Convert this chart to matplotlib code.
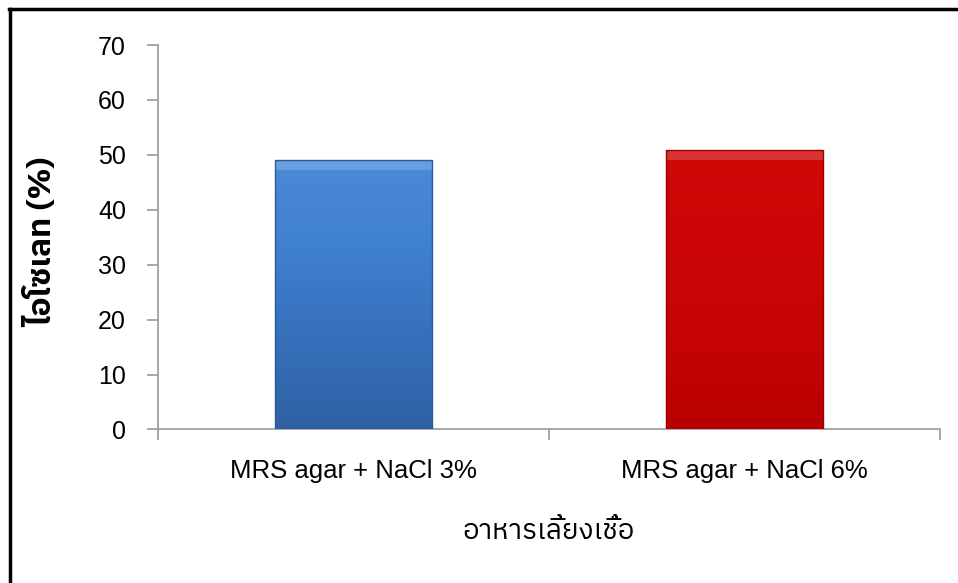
import numpy as np
import matplotlib
matplotlib.use("Agg")
import matplotlib.pyplot as plt
from matplotlib import font_manager
from matplotlib.ft2font import FT2Font
from matplotlib.colors import LinearSegmentedColormap
from matplotlib.lines import Line2D

categories = ["MRS agar + NaCl 3%", "MRS agar + NaCl 6%"]
values = [49.0, 50.8]
yticks = [0, 10, 20, 30, 40, 50, 60, 70]
ylabel = "ไอโซเลท (%)"
xlabel = "อาหารเลี้ยงเชื้อ"

# find a font that has Thai glyphs
thai_font = None
cands = []
for f in font_manager.fontManager.ttflist:
    try:
        cm = FT2Font(f.fname).get_charmap()
        if 0x0E44 in cm and 0x0E17 in cm:
            cands.append(f)
    except Exception:
        pass
if cands:
    pref = [c for c in cands if "thai" in c.name.lower()]
    thai_font = (pref or cands)[0].name
thai_family = [thai_font, "DejaVu Sans"] if thai_font else ["DejaVu Sans"]

plt.rcParams["font.family"] = ["Liberation Sans", "DejaVu Sans"]

fig = plt.figure(figsize=(9.58, 5.83), dpi=100)
ax = fig.add_axes([0.1649, 0.2633, 0.9812 - 0.1649, 0.9228 - 0.2633])

x = np.arange(len(categories))
bars = ax.bar(x, values, width=0.40, color="none", edgecolor="none", zorder=3)

grads = [
    LinearSegmentedColormap.from_list("b", ["#2f61a4", "#3670bb", "#3f80cf", "#4a8ad9"]),
    LinearSegmentedColormap.from_list("r", ["#b80000", "#c60404", "#cc0606", "#cf0808"]),
]
edges = ["#2a5a9a", "#9a0000"]
for b, cmap, ec in zip(bars, grads, edges):
    x0, y0 = b.get_x(), b.get_y()
    w, h = b.get_width(), b.get_height()
    grad = np.linspace(0, 1, 256).reshape(-1, 1)
    im = ax.imshow(grad, cmap=cmap, origin="lower", aspect="auto",
                   extent=[x0, x0 + w, y0, y0 + h], zorder=3)
    im.set_clip_path(b)
    # bevel highlight at top
    ax.bar(x0 + w / 2, h * 0.035, bottom=y0 + h * 0.965, width=w,
           color="white", alpha=0.18, zorder=4, edgecolor="none")
    ax.bar(x0 + w / 2, h, bottom=y0, width=w, color="none",
           edgecolor=ec, linewidth=1.0, zorder=5)

ax.set_xlim(-0.5, 1.5)
ax.set_ylim(0, 70)
ax.set_yticks(yticks)
ax.set_xticks(x)
ax.set_xticklabels(categories, fontsize=18.5)
ax.set_yticklabels([str(t) for t in yticks], fontsize=18)
ax.set_xticks([-0.5, 0.5, 1.5], minor=True)
ax.tick_params(axis="x", which="major", length=0, pad=21)
ax.tick_params(axis="x", which="minor", length=8, direction="out", color="#a0a0a0", width=1.3)
ax.tick_params(axis="y", length=8, direction="out", color="#a0a0a0", width=1.3, pad=15)

for s in ["top", "right"]:
    ax.spines[s].set_visible(False)
for s in ["left", "bottom"]:
    ax.spines[s].set_color("#a0a0a0")
    ax.spines[s].set_linewidth(1.3)

fig.text(0.043, 0.585, ylabel, rotation=90, ha="center", va="center",
         fontsize=23, fontweight="bold", family=thai_family)
fig.text(0.573, 0.088, xlabel, ha="center", va="center",
         fontsize=20, family=thai_family)

# black frame on left and top
fig.add_artist(Line2D([9.5 / 958, 9.5 / 958], [0, 1 - 8.5 / 583], transform=fig.transFigure,
                      color="black", linewidth=2.5))
fig.add_artist(Line2D([8.5 / 958, 1], [1 - 8.5 / 583, 1 - 8.5 / 583], transform=fig.transFigure,
                      color="black", linewidth=2.5))

fig.savefig("out.png", dpi=100)
